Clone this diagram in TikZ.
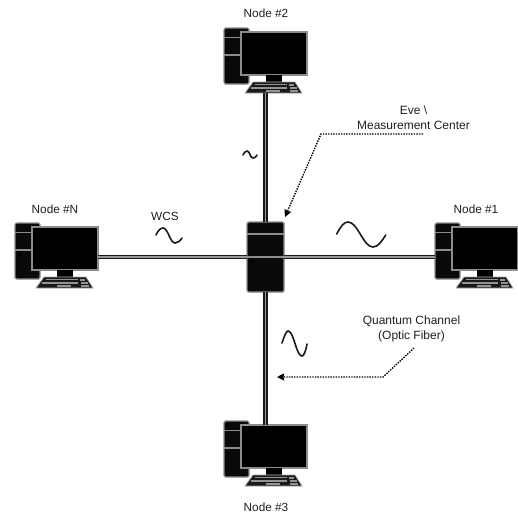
\documentclass[tikz,border=0pt]{standalone}
\usepackage{fontspec}
\setmainfont{Liberation Sans}
\usetikzlibrary{arrows.meta}
\definecolor{edgegray}{HTML}{8C8C8C}
\definecolor{casefill}{HTML}{0A0A0A}
\tikzset{
  caseline/.style={draw=edgegray,line width=1.2pt},
  casebox/.style={draw=edgegray,fill=casefill,line width=1.4pt,rounded corners=1.5pt,inner sep=0pt,outer sep=0pt},
  screenbox/.style={draw=edgegray,fill=black,line width=1.4pt,inner sep=0pt,outer sep=0pt,minimum width=66pt,minimum height=43pt},
  fibre/.style={draw=black!90,line width=1.6pt,double=gray!80,double distance=1.2pt},
  wave/.style={draw=black!90,line width=1.6pt,line cap=round},
  callout/.style={draw=black,line width=1.4pt,dash pattern=on 1.4pt off 1.2pt,-{Stealth[length=7pt,width=7pt,inset=0.5pt]}},
  lbl/.style={font=\fontsize{11.8}{14.5}\selectfont,align=center,inner sep=0pt,text=black!88},
  lblbig/.style={lbl,font=\fontsize{12}{14.8}\selectfont},
  computer/.pic={
    \node[casebox,minimum width=25pt,minimum height=56pt] (-tower) at (12.5,28) {};
    \draw[caseline] (0,9.3) -- (25,9.3) (0,27) -- (25,27);
    \fill[black] (4.3,32) circle (1.5pt);
    \node[screenbox] (-monitor) at (50,25.5) {};
    \fill[black] (42,47) rectangle (58,54);
    \fill[black!90,draw=gray!70,line width=0.8pt,line join=round] (29,54) -- (71,54) -- (78,65) -- (21,65) -- cycle;
    \draw[gray!85,line width=1.1pt] (31,56.5) -- (63,56.5) (27,60) -- (63,60) (42,63) -- (56,63)
      (65,57) -- (70,57) (66,60) -- (73,60) (66,63) -- (74,63);
    \coordinate (-kb) at (50,65);
  },
}
\begin{document}
\begin{tikzpicture}[x=1pt,y=-1pt]
\useasboundingbox (0,0) rectangle (518,515);
% server
\node[casebox,minimum width=37pt,minimum height=70pt] (server) at (265.5,257) {};
% computers
\pic (c2) at (224,28) {computer};
\pic (cN) at (15,223) {computer};
\pic (c1) at (435,223) {computer};
\pic (c3) at (224,421) {computer};
\draw[caseline] (server.west|-0,234) -- (server.east|-0,234) (server.west) -- (server.east);
\fill[black] (253,262) circle (1.8pt);
% fibres
\draw[fibre] (server.north) -- (server.north |- c2-kb);
\draw[fibre] (server.south) -- (server.south |- c3-monitor.north);
\draw[fibre] (server.west) -- (cN-monitor.east |- server.west);
\draw[fibre] (server.east) -- (c1-tower.west |- server.east);
% waves
\draw[wave] (336.7,234) .. controls (341,226) and (344,222) .. (348,222) .. controls (358,222) and (363,247) .. (373,247) .. controls (378,247) and (382,241) .. (385.7,235);
\draw[wave] (156,235) .. controls (158,231) and (160,228) .. (163,228) .. controls (168,228) and (170,243) .. (175,243) .. controls (178,243) and (180,241) .. (182,238);
\draw[wave] (282,343) .. controls (284,337) and (286,331) .. (288,331) .. controls (294,331) and (296,356) .. (302,356) .. controls (304,356) and (306,350) .. (307,344);
\draw[wave] (243,155) .. controls (244,153) and (245,151) .. (247,151) .. controls (250,151) and (250,158) .. (253,158) .. controls (255,158) and (256,157) .. (257,155);
% labels
\node[lbl] (l2) at (266,13) {Node \#2};
\node[lbl] (lN) at (55,209) {Node \#N};
\node[lbl] (l1) at (476,209) {Node \#1};
\node[lbl] (l3) at (266,507) {Node \#3};
\node[lbl] (lw) at (165,216) {WCS};
\node[lblbig] (le) at (413.5,118) {Eve \textbackslash\\Measurement Center};
\node[lblbig] (lq) at (411.5,329) {Quantum Channel\\(Optic Fiber)};
% callouts
\coordinate (eA) at (423,134);
\coordinate (eB) at (321,134);
\coordinate (eC) at (285,217);
\coordinate (qA) at (414,348);
\coordinate (qB) at (383,377);
\coordinate (qC) at (277,377);
\draw[callout] (eA) -- (eB) -- (eC);
\draw[callout] (qA) -- (qB) -- (qC);
\end{tikzpicture}
\end{document}
